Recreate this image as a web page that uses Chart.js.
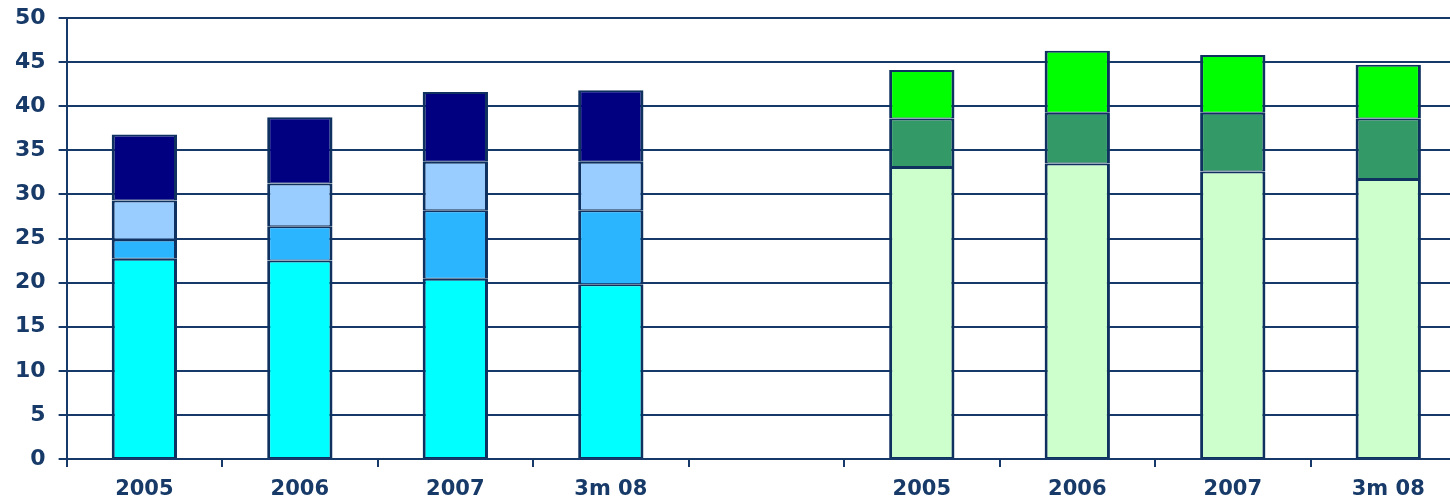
<!DOCTYPE html>
<html>
<head>
<meta charset="utf-8">
<script src="https://cdn.jsdelivr.net/npm/chart.js@4"></script>
<style>
  html, body { margin: 0; padding: 0; background: #fff; overflow: hidden; }
  .wrap { width: 1450px; height: 498px; overflow: hidden; }
  #barChart { display: block; margin-top: -6px; }
</style>
</head>
<body>
<div class="wrap">
  <canvas id="barChart" width="1470" height="518"></canvas>
</div>
<script>
// categories: two groups of four, blank slot between them
const categories = ["2005", "2006", "2007", "3m 08", "", "2005", "2006", "2007", "3m 08"];
const yTicks = [0, 5, 10, 15, 20, 25, 30, 35, 40, 45, 50];

// left group, bottom to top
const leftBase = [22.7, 22.5, 20.45, 19.8];
const leftSecond = [2.2, 3.9, 7.75, 8.4];
const leftThird = [4.4, 4.85, 5.5, 5.5];
const leftTop = [7.5, 7.5, 7.9, 8.1];

// right group, bottom to top
const rightBase = [33.1, 33.5, 32.6, 31.75];
const rightMid = [5.5, 5.75, 6.65, 6.85];
const rightTop = [5.5, 7.05, 6.55, 6.1];

const navyLine = "#17396A";
const textColor = "#173A68";

const padLeft = (vals) => vals.concat([null, null, null, null, null]);
const padRight = (vals) => [null, null, null, null, null].concat(vals);

// top+bottom of two stacked pieces give one ~3px join line
const makeSet = (data, color) => ({
  data: data,
  backgroundColor: color,
  borderColor: "#0F3160",
  borderWidth: { left: 3, right: 3, top: 2, bottom: 1 },
  borderSkipped: false,
  barPercentage: 0.42,
  categoryPercentage: 1,
});

new Chart("barChart", {
  type: "bar",
  data: {
    labels: categories,
    datasets: [
      makeSet(padLeft(leftBase), "#00FFFF"),
      makeSet(padLeft(leftSecond), "#2CB5FF"),
      makeSet(padLeft(leftThird), "#99CCFF"),
      makeSet(padLeft(leftTop), "#000080"),
      makeSet(padRight(rightBase), "#CCFFCC"),
      makeSet(padRight(rightMid), "#339966"),
      makeSet(padRight(rightTop), "#00FF00"),
    ],
  },
  options: {
    responsive: false,
    animation: false,
    layout: { padding: { left: 2, top: 2, right: 4, bottom: 0 } },
    plugins: {
      legend: { display: false },
      tooltip: { enabled: false },
    },
    scales: {
      x: {
        stacked: true,
        grid: {
          drawOnChartArea: false,
          drawTicks: true,
          tickLength: 8,
          color: navyLine,
          lineWidth: 2,
        },
        border: { color: navyLine, width: 2 },
        ticks: {
          color: textColor,
          padding: 12,
          maxRotation: 0,
          font: { family: "DejaVu Sans", size: 21, weight: "bold", lineHeight: 1 },
        },
      },
      y: {
        stacked: true,
        min: 0,
        max: 50,
        afterBuildTicks: (axis) => {
          axis.ticks = yTicks.map((v) => ({ value: v }));
        },
        grid: {
          color: navyLine,
          lineWidth: 2,
          tickLength: 8,
        },
        border: { color: navyLine, width: 2 },
        ticks: {
          color: textColor,
          padding: 13,
          font: { family: "DejaVu Sans", size: 22, weight: "bold", lineHeight: 1 },
        },
      },
    },
  },
});
</script>
</body>
</html>
